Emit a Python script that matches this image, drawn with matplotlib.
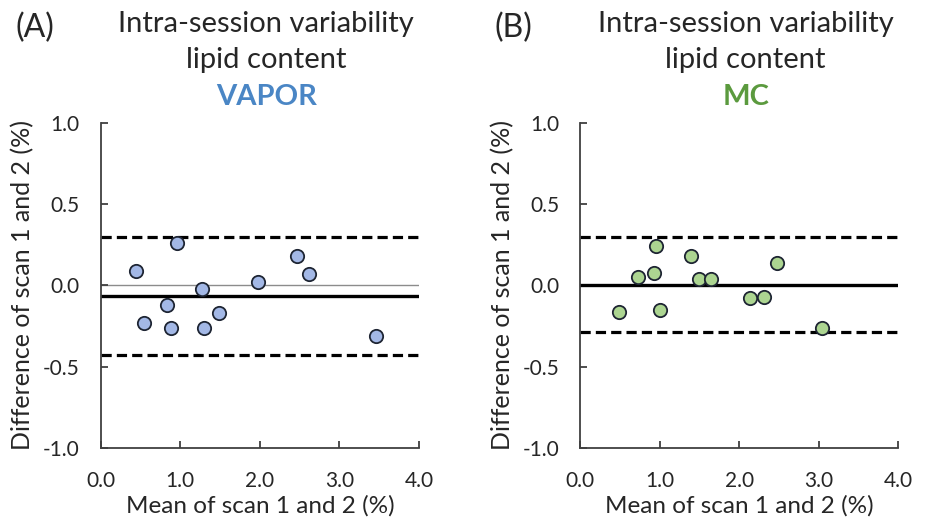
import numpy as np
import matplotlib
matplotlib.use('Agg')
import matplotlib.pyplot as plt

plt.rcParams['font.family'] = ['Lato', 'DejaVu Sans']
plt.rcParams['xtick.major.pad'] = 17
plt.rcParams['ytick.major.pad'] = 15

# Panel A - VAPOR
vapor_mean = [0.45, 0.96, 0.55, 0.83, 0.88, 1.27, 1.30, 1.49, 1.98, 2.47, 2.62, 3.46]
vapor_diff = [0.09, 0.26, -0.23, -0.12, -0.26, -0.02, -0.26, -0.17, 0.02, 0.18, 0.07, -0.31]
vapor_bias = -0.066
vapor_loa = [0.30, -0.43]

# Panel B - MC
mc_mean = [0.49, 0.73, 0.93, 0.95, 1.01, 1.40, 1.49, 1.65, 2.14, 2.31, 2.48, 3.04]
mc_diff = [-0.165, 0.05, 0.075, 0.24, -0.15, 0.18, 0.04, 0.04, -0.08, -0.07, 0.14, -0.265]
mc_bias = 0.0
mc_loa = [0.30, -0.29]

xticks = [0, 1, 2, 3, 4]
yticks = [-1.0, -0.5, 0.0, 0.5, 1.0]

fig = plt.figure(figsize=(9.28, 5.24), dpi=100)
ax1 = fig.add_axes([0.1085, 0.1456, 0.343, 0.6197])
ax2 = fig.add_axes([0.625, 0.1456, 0.343, 0.6197])

panels = [
    (ax1, vapor_mean, vapor_diff, vapor_bias, vapor_loa, '#a3b8e6', 'VAPOR', '#4a86c5', '(A)', True),
    (ax2, mc_mean, mc_diff, mc_bias, mc_loa, '#acd591', 'MC', '#5b9a3e', '(B)', False),
]

for ax, xm, yd, bias, loa, fill, name, ncol, letter, zero_line in panels:
    if zero_line:
        ax.axhline(0, color='#8c8c8c', lw=1.0, zorder=1)
    ax.axhline(bias, color='black', lw=2.4, zorder=2)
    for v in loa:
        ax.axhline(v, color='black', lw=2.3, ls=(0, (3.2, 1.6)), zorder=2)
    ax.scatter(xm, yd, s=92, facecolor=fill, edgecolor='#1e2533', linewidth=1.3, zorder=3)

    ax.set_xlim(0, 4)
    ax.set_ylim(-1, 1)
    ax.set_xticks(xticks)
    ax.set_xticklabels([f'{t:.1f}' for t in xticks])
    ax.set_yticks(yticks)
    ax.set_yticklabels([f'{t:.1f}' for t in yticks])
    for s in ['top', 'right']:
        ax.spines[s].set_visible(False)
    for s in ['left', 'bottom']:
        ax.spines[s].set_color('#404040')
        ax.spines[s].set_linewidth(1.3)
    ax.tick_params(direction='in', length=5, width=1.3, color='#404040',
                   labelsize=15, labelcolor='#262626')
    ax.set_xlabel('Mean of scan 1 and 2 (%)', fontsize=17.5, color='#262626', labelpad=3)
    ax.set_ylabel('Difference of scan 1 and 2 (%)', fontsize=18, color='#262626', labelpad=6)

    pos = ax.get_position()
    cx = pos.x0 + pos.width / 2 + 0.007
    fig.text(cx, 0.939, 'Intra-session variability', ha='center', va='baseline',
             fontsize=21, color='#262626')
    fig.text(cx, 0.870, 'lipid content', ha='center', va='baseline',
             fontsize=21, color='#262626')
    fig.text(cx, 0.800, name, ha='center', va='baseline',
             fontsize=21, fontweight='bold', color=ncol)
    fig.text(pos.x0 - 0.092, 0.929, letter, ha='left', va='baseline',
             fontsize=23, color='#262626')

fig.savefig('out.png', dpi=100)
